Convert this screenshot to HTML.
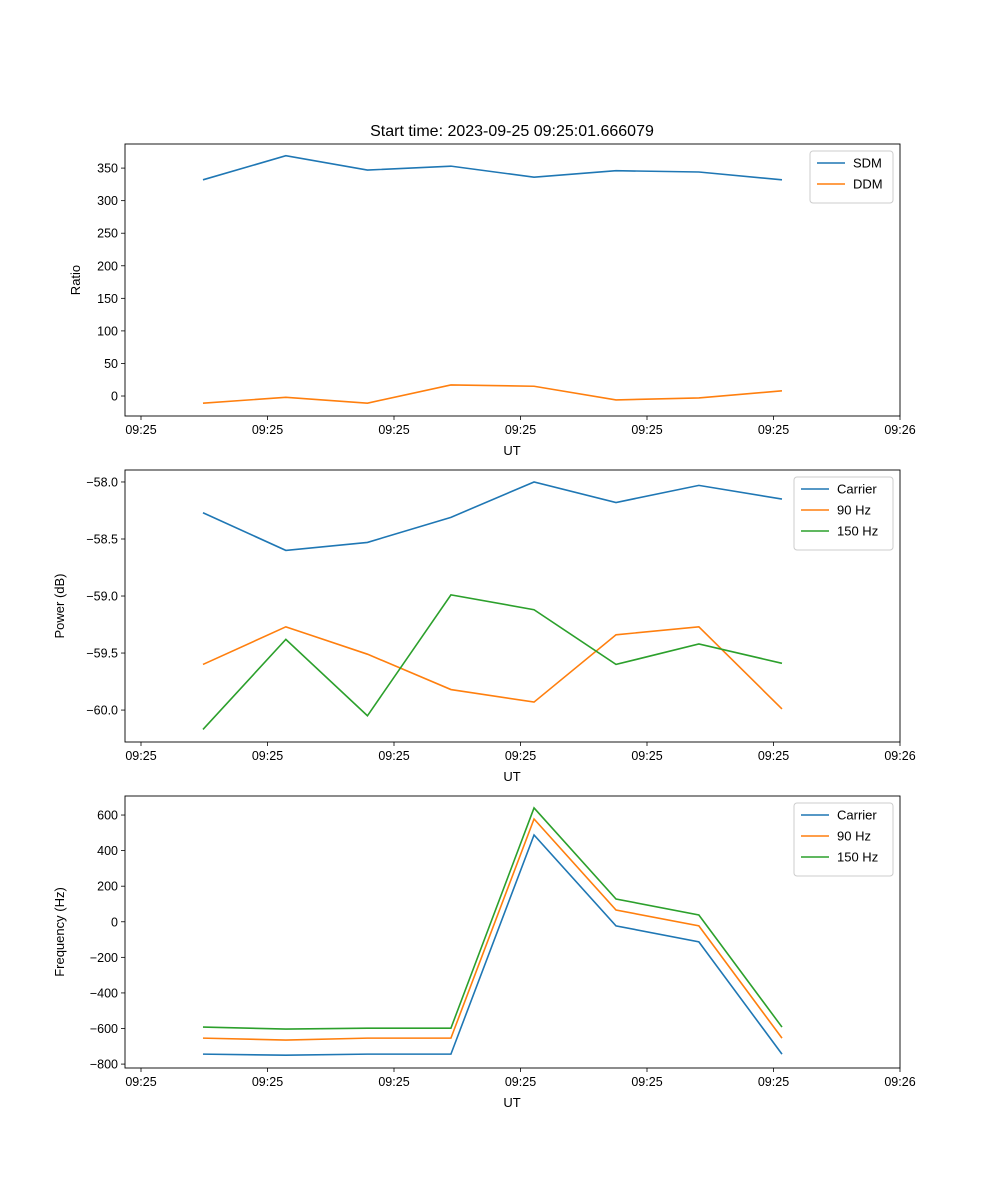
<!DOCTYPE html>
<html><head><meta charset="utf-8"><style>
body{margin:0;background:#fff}
svg{display:block;font-family:"Liberation Sans","DejaVu Sans",sans-serif}
</style></head><body>
<svg id="fig" width="1000" height="1200" viewBox="0 0 1000 1200" xmlns="http://www.w3.org/2000/svg">
<rect width="1000" height="1200" fill="#fff"/>
<text x="512" y="136" font-size="16" text-anchor="middle">Start time: 2023-09-25 09:25:01.666079</text>
</svg>
<script>
const times = [0.49, 1.145, 1.79, 2.45, 3.107, 3.755, 4.41, 5.067];
const xTickVals = [0, 1, 2, 3, 4, 5, 6];
const xTickLabels = ["09:25","09:25","09:25","09:25","09:25","09:25","09:26"];
const sdm = [332, 369, 347, 353, 336, 346, 344, 332];
const ddm = [-11, -2, -11, 17, 15, -6, -3, 8];
const powCarrier = [-58.27, -58.60, -58.53, -58.31, -58.0, -58.18, -58.03, -58.15];
const pow90 = [-59.60, -59.27, -59.51, -59.82, -59.93, -59.34, -59.27, -59.99];
const pow150 = [-60.17, -59.38, -60.05, -58.99, -59.12, -59.60, -59.42, -59.59];
const freqCarrier = [-744, -750, -744, -744, 488, -23, -113, -744];
const freq90 = [-654, -665, -654, -654, 578, 66, -23, -654];
const freq150 = [-592, -603, -598, -598, 640, 128, 38, -592];
const yTicks1 = [0, 50, 100, 150, 200, 250, 300, 350];
const yTicks2 = [-60.0, -59.5, -59.0, -58.5, -58.0];
const yTicks3 = [-800, -600, -400, -200, 0, 200, 400, 600];

const NS = "http://www.w3.org/2000/svg";
const svg = document.getElementById("fig");
const C = ["#1f77b4", "#ff7f0e", "#2ca02c"];
function mk(tag, attrs, parent) {
  const e = document.createElementNS(NS, tag);
  for (const k in attrs) e.setAttribute(k, attrs[k]);
  (parent || svg).appendChild(e);
  return e;
}
const L = 125, R = 900;
const xs = t => 141 + (t - 0) * (900 - 141) / 6;

function panel(key, top, bottom, ymin, ymax, yticks, fmt, ylabel, series, legendW) {
  const g = mk("g", {});
  
  
  const ys = v => bottom - (v - ymin) / (ymax - ymin) * (bottom - top);
  // x ticks
  xTickVals.forEach((v, i) => {
    const x = xs(v);
    mk("line", {x1: x, x2: x, y1: bottom, y2: bottom + 4, stroke: "#000", "stroke-width": 0.8}, g);
    const t = mk("text", {x: x, y: bottom + 18, "font-size": 12.5, "text-anchor": "middle"}, g);
    
    
    t.textContent = xTickLabels[i];
  });
  yticks.forEach(v => {
    const y = ys(v);
    mk("line", {x1: L - 4, x2: L, y1: y, y2: y, stroke: "#000", "stroke-width": 0.8}, g);
    const t = mk("text", {x: L - 7, y: y + 4.5, "font-size": 12.5, "text-anchor": "end"}, g);
    
    
    t.textContent = fmt(v);
  });
  const xl = mk("text", {x: 512, y: bottom + 39, "font-size": 13, "text-anchor": "middle"}, g);
  
  
  xl.textContent = "UT";
  const ylx = key === "ratio" ? 80 : 64;
  const yl = mk("text", {x: ylx, y: (top + bottom) / 2, "font-size": 13, "text-anchor": "middle", transform: `rotate(-90 ${ylx} ${(top + bottom) / 2})`}, g);
  
  
  yl.textContent = ylabel;
  series.forEach((s, i) => {
    const p = mk("polyline", {points: s.data.map((v, j) => xs(times[j]) + "," + ys(v)).join(" "), fill: "none", stroke: C[i], "stroke-width": 1.6}, g);
    
    
  });
  const fr = mk("rect", {x: L, y: top, width: R - L, height: bottom - top, fill: "none", stroke: "#000", "stroke-width": 0.9}, g);
  
  
  // legend
  const lx = R - 7 - legendW, ly = top + 7, lh = 10 + series.length * 21;
  const lg = mk("g", {}, g);
  
  
  mk("rect", {x: lx, y: ly, width: legendW, height: lh, rx: 3, fill: "#fff", "fill-opacity": 0.8, stroke: "#ccc", "stroke-width": 1}, lg);
  series.forEach((s, i) => {
    const y = ly + 12 + i * 21;
    mk("line", {x1: lx + 7, x2: lx + 35, y1: y, y2: y, stroke: C[i], "stroke-width": 1.6}, lg);
    const t = mk("text", {x: lx + 43, y: y + 4.5, "font-size": 13}, lg);
    
    
    t.textContent = s.name;
  });
}
const minus = s => s.replace("-", "\u2212");
panel("ratio", 144, 416, -30.7, 387, yTicks1, v => minus(String(v)), "Ratio",
  [{name: "SDM", data: sdm}, {name: "DDM", data: ddm}], 83);
panel("power", 470, 742, -60.28, -57.895, yTicks2, v => minus(v.toFixed(1)), "Power (dB)",
  [{name: "Carrier", data: powCarrier}, {name: "90 Hz", data: pow90}, {name: "150 Hz", data: pow150}], 99);
panel("frequency", 796, 1068, -822, 707, yTicks3, v => minus(String(v)), "Frequency (Hz)",
  [{name: "Carrier", data: freqCarrier}, {name: "90 Hz", data: freq90}, {name: "150 Hz", data: freq150}], 99);
</script>
</body></html>
